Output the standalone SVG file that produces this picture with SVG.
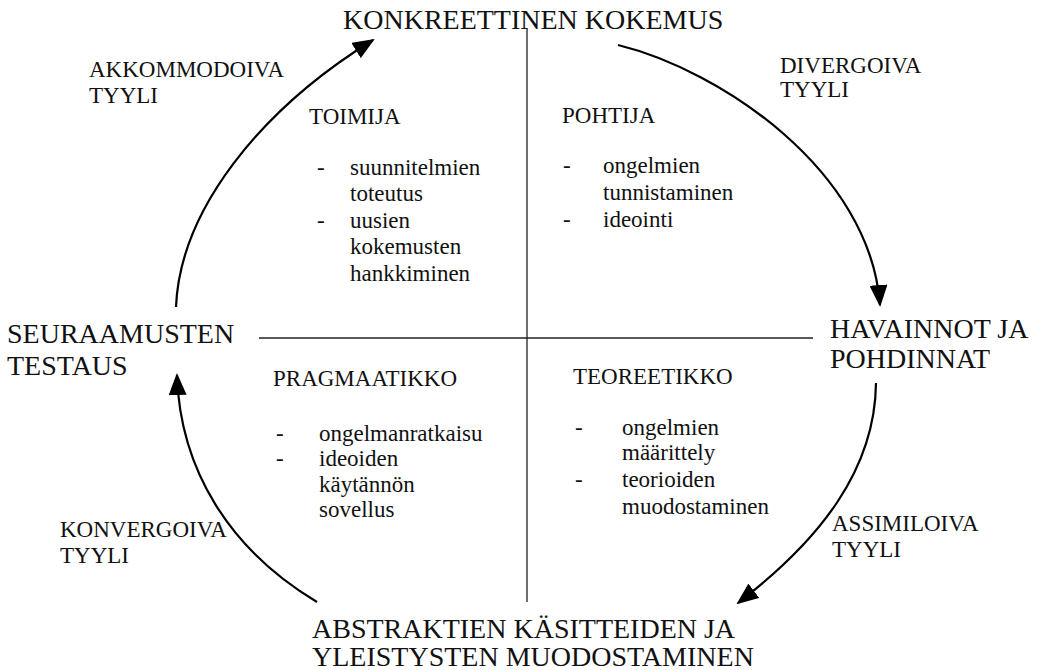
<svg xmlns="http://www.w3.org/2000/svg" width="1041" height="670" viewBox="0 0 1041 670">
<style>
text{font-family:"Liberation Serif","Times New Roman",serif;fill:#111}
.big{font-size:28px}
.med{font-size:23px}
.axis{stroke:#222;stroke-width:1.3;fill:none}
.arc{stroke:#000;stroke-width:2.2;fill:none;marker-end:url(#ah)}
</style>
<defs>
<marker id="ah" markerUnits="userSpaceOnUse" markerWidth="22" markerHeight="18" refX="20" refY="9" orient="auto" viewBox="0 0 22 18">
<path d="M0,0 L22,9 L0,18 Z" fill="#000"/>
</marker>
</defs>
<rect width="1041" height="670" fill="#fff"/>
<g id="axes">
<line class="axis" x1="527" y1="28" x2="527" y2="602"/>
<line class="axis" x1="259" y1="338" x2="813" y2="338"/>
</g>
<g id="connectors">
<path class="arc" d="M176,307 C180,210 260,110 373,40"/>
<path class="arc" d="M618,45 C720,70 870,170 880,305"/>
<path class="arc" d="M876,383 C875,470 820,540 738,603"/>
<path class="arc" d="M317,602 C230,550 180,470 177,375"/>
</g>
<g id="node-konkreettinen">
<text class="big" x="343" y="29">KONKREETTINEN KOKEMUS</text>
</g>
<g id="node-havainnot">
<text class="big" x="830" y="338">HAVAINNOT JA</text>
<text class="big" x="830" y="368">POHDINNAT</text>
</g>
<g id="node-seuraamusten">
<text class="big" x="7" y="343">SEURAAMUSTEN</text>
<text class="big" x="7" y="375">TESTAUS</text>
</g>
<g id="node-abstraktien">
<text class="big" x="312" y="638">ABSTRAKTIEN KÄSITTEIDEN JA</text>
<text class="big" x="312" y="666">YLEISTYSTEN MUODOSTAMINEN</text>
</g>
<g id="label-akkommodoiva">
<text class="med" x="89" y="77">AKKOMMODOIVA</text>
<text class="med" x="89" y="103">TYYLI</text>
</g>
<g id="label-divergoiva">
<text class="med" x="780" y="73">DIVERGOIVA</text>
<text class="med" x="780" y="97">TYYLI</text>
</g>
<g id="label-konvergoiva">
<text class="med" x="60" y="537">KONVERGOIVA</text>
<text class="med" x="60" y="563">TYYLI</text>
</g>
<g id="label-assimiloiva">
<text class="med" x="832" y="531">ASSIMILOIVA</text>
<text class="med" x="832" y="557">TYYLI</text>
</g>
<g id="quadrant-toimija">
<text class="med" x="309" y="124">TOIMIJA</text>
<text class="med" x="317" y="175">-</text>
<text class="med" x="350" y="175">suunnitelmien</text>
<text class="med" x="350" y="201">toteutus</text>
<text class="med" x="317" y="228">-</text>
<text class="med" x="350" y="228">uusien</text>
<text class="med" x="350" y="254">kokemusten</text>
<text class="med" x="350" y="281">hankkiminen</text>
</g>
<g id="quadrant-pohtija">
<text class="med" x="562" y="123">POHTIJA</text>
<text class="med" x="563" y="173">-</text>
<text class="med" x="603" y="173">ongelmien</text>
<text class="med" x="603" y="200">tunnistaminen</text>
<text class="med" x="563" y="227">-</text>
<text class="med" x="603" y="227">ideointi</text>
</g>
<g id="quadrant-pragmaatikko">
<text class="med" x="273" y="386">PRAGMAATIKKO</text>
<text class="med" x="276" y="441">-</text>
<text class="med" x="319" y="441">ongelmanratkaisu</text>
<text class="med" x="276" y="466">-</text>
<text class="med" x="319" y="466">ideoiden</text>
<text class="med" x="319" y="492">käytännön</text>
<text class="med" x="319" y="517">sovellus</text>
</g>
<g id="quadrant-teoreetikko">
<text class="med" x="573" y="384">TEOREETIKKO</text>
<text class="med" x="575" y="435">-</text>
<text class="med" x="622" y="435">ongelmien</text>
<text class="med" x="622" y="460">määrittely</text>
<text class="med" x="575" y="487">-</text>
<text class="med" x="622" y="487">teorioiden</text>
<text class="med" x="622" y="514">muodostaminen</text>
</g>
</svg>
